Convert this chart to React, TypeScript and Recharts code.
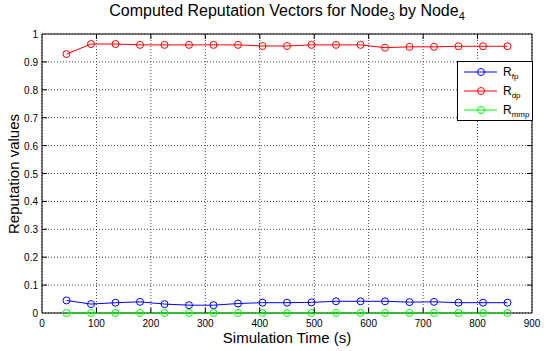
import { LineChart, Line, XAxis, YAxis, CartesianGrid, ReferenceArea } from 'recharts';

const times = [45, 90, 135, 180, 225, 270, 315, 360, 405, 450, 495, 540, 585, 630, 675, 720, 765, 810, 855];
const rFp = [0.045, 0.032, 0.037, 0.04, 0.032, 0.028, 0.028, 0.034, 0.037, 0.037, 0.038, 0.042, 0.042, 0.042, 0.039, 0.04, 0.037, 0.037, 0.037];
const rDp = [0.928, 0.964, 0.964, 0.961, 0.961, 0.961, 0.961, 0.961, 0.957, 0.957, 0.961, 0.961, 0.961, 0.951, 0.954, 0.954, 0.956, 0.956, 0.956];
const rMmp = [0, 0, 0, 0, 0, 0, 0, 0, 0, 0, 0, 0, 0, 0, 0, 0, 0, 0, 0];
const xTicks = [0, 100, 200, 300, 400, 500, 600, 700, 800, 900];
const yTicks = [0, 0.1, 0.2, 0.3, 0.4, 0.5, 0.6, 0.7, 0.8, 0.9, 1];

const seriesInfo = [
  { key: 'fp', sub: 'fp', color: '#0000ff' },
  { key: 'dp', sub: 'dp', color: '#ff0000' },
  { key: 'mmp', sub: 'mmp', color: '#00ff00' },
];

const W = 550;
const H = 351;
const LEFT = 42;
const RIGHT = 532;
const TOP = 34;
const BOTTOM = 313;
const FONT = '"Liberation Sans", Arial, sans-serif';

const data = times.map((t, i) => ({ t, fp: rFp[i], dp: rDp[i], mmp: rMmp[i] }));

function XTick({ x, payload }: any) {
  const inner = payload.value !== 0 && payload.value !== 900;
  return (
    <g>
      {inner && <line x1={x} x2={x} y1={BOTTOM} y2={BOTTOM - 5} stroke="#000" />}
      {inner && <line x1={x} x2={x} y1={TOP} y2={TOP + 5} stroke="#000" />}
      <text x={x} y={BOTTOM + 14} textAnchor="middle" fontSize={10} fontFamily={FONT} fill="#000">
        {payload.value}
      </text>
    </g>
  );
}

function YTick({ y, payload }: any) {
  const inner = payload.value !== 0 && payload.value !== 1;
  return (
    <g>
      {inner && <line x1={LEFT} x2={LEFT + 5} y1={y} y2={y} stroke="#000" />}
      {inner && <line x1={RIGHT} x2={RIGHT - 5} y1={y} y2={y} stroke="#000" />}
      <text x={LEFT - 4} y={y + 4} textAnchor="end" fontSize={10} fontFamily={FONT} fill="#000">
        {String(payload.value)}
      </text>
    </g>
  );
}

function LegendBox() {
  return (
    <svg width={76} height={60} style={{ position: 'absolute', left: 457, top: 61 }}>
      <rect x={0.5} y={0.5} width={75} height={59} fill="#fff" stroke="#000" />
      {seriesInfo.map((s, i) => {
        const cy = 11 + i * 19;
        return (
          <g key={s.key}>
            <line x1={7} x2={40} y1={cy} y2={cy} stroke={s.color} />
            <circle cx={24} cy={cy} r={3.5} fill="none" stroke={s.color} />
            <text x={46} y={cy + 4} fontSize={12} fontFamily={FONT} fill="#000">
              R<tspan fontSize={8} dy={3}>{s.sub}</tspan>
            </text>
          </g>
        );
      })}
    </svg>
  );
}

export default function App() {
  return (
    <div style={{ position: 'absolute', left: 0, top: 0, width: W, height: H, background: '#fff', fontFamily: FONT }}>
      <div style={{ position: 'absolute', left: LEFT, width: RIGHT - LEFT, top: 2, textAlign: 'center', fontSize: 16 }}>
        Computed Reputation Vectors for Node<sub style={{ fontSize: 11 }}>3</sub> by Node<sub style={{ fontSize: 11 }}>4</sub>
      </div>
      <LineChart
        width={W}
        height={H}
        data={data}
        margin={{ top: TOP, right: W - RIGHT, bottom: H - BOTTOM - 20, left: 12 }}
      >
        <CartesianGrid stroke="#444" strokeDasharray="1 2" vertical horizontal />
        <XAxis
          dataKey="t"
          type="number"
          domain={[0, 900]}
          ticks={xTicks}
          height={20}
          tickSize={0}
          tickMargin={0}
          tickLine={false}
          axisLine={false}
          tick={<XTick />}
          interval={0}
        />
        <YAxis
          type="number"
          domain={[0, 1]}
          ticks={yTicks}
          width={30}
          tickSize={0}
          tickMargin={0}
          tickLine={false}
          axisLine={false}
          tick={<YTick />}
          interval={0}
        />
        <ReferenceArea x1={0} x2={900} y1={0} y2={1} fill="none" stroke="#000" strokeWidth={1} fillOpacity={0} />
        {seriesInfo.map((s) => (
          <Line
            key={s.key}
            dataKey={s.key}
            stroke={s.color}
            strokeWidth={1}
            isAnimationActive={false}
            dot={{ r: 3.5, fill: 'none', stroke: s.color, strokeWidth: 1, clipDot: false }}
            activeDot={false}
            type="linear"
          />
        ))}
      </LineChart>
      <LegendBox />
      <div style={{ position: 'absolute', left: LEFT, width: RIGHT - LEFT, top: 329, textAlign: 'center', fontSize: 15 }}>
        Simulation Time (s)
      </div>
      <div
        style={{
          position: 'absolute',
          left: 13,
          top: (TOP + BOTTOM) / 2,
          transform: 'translate(-50%, -50%) rotate(-90deg)',
          whiteSpace: 'nowrap',
          fontSize: 15,
        }}
      >
        Reputation values
      </div>
    </div>
  );
}
